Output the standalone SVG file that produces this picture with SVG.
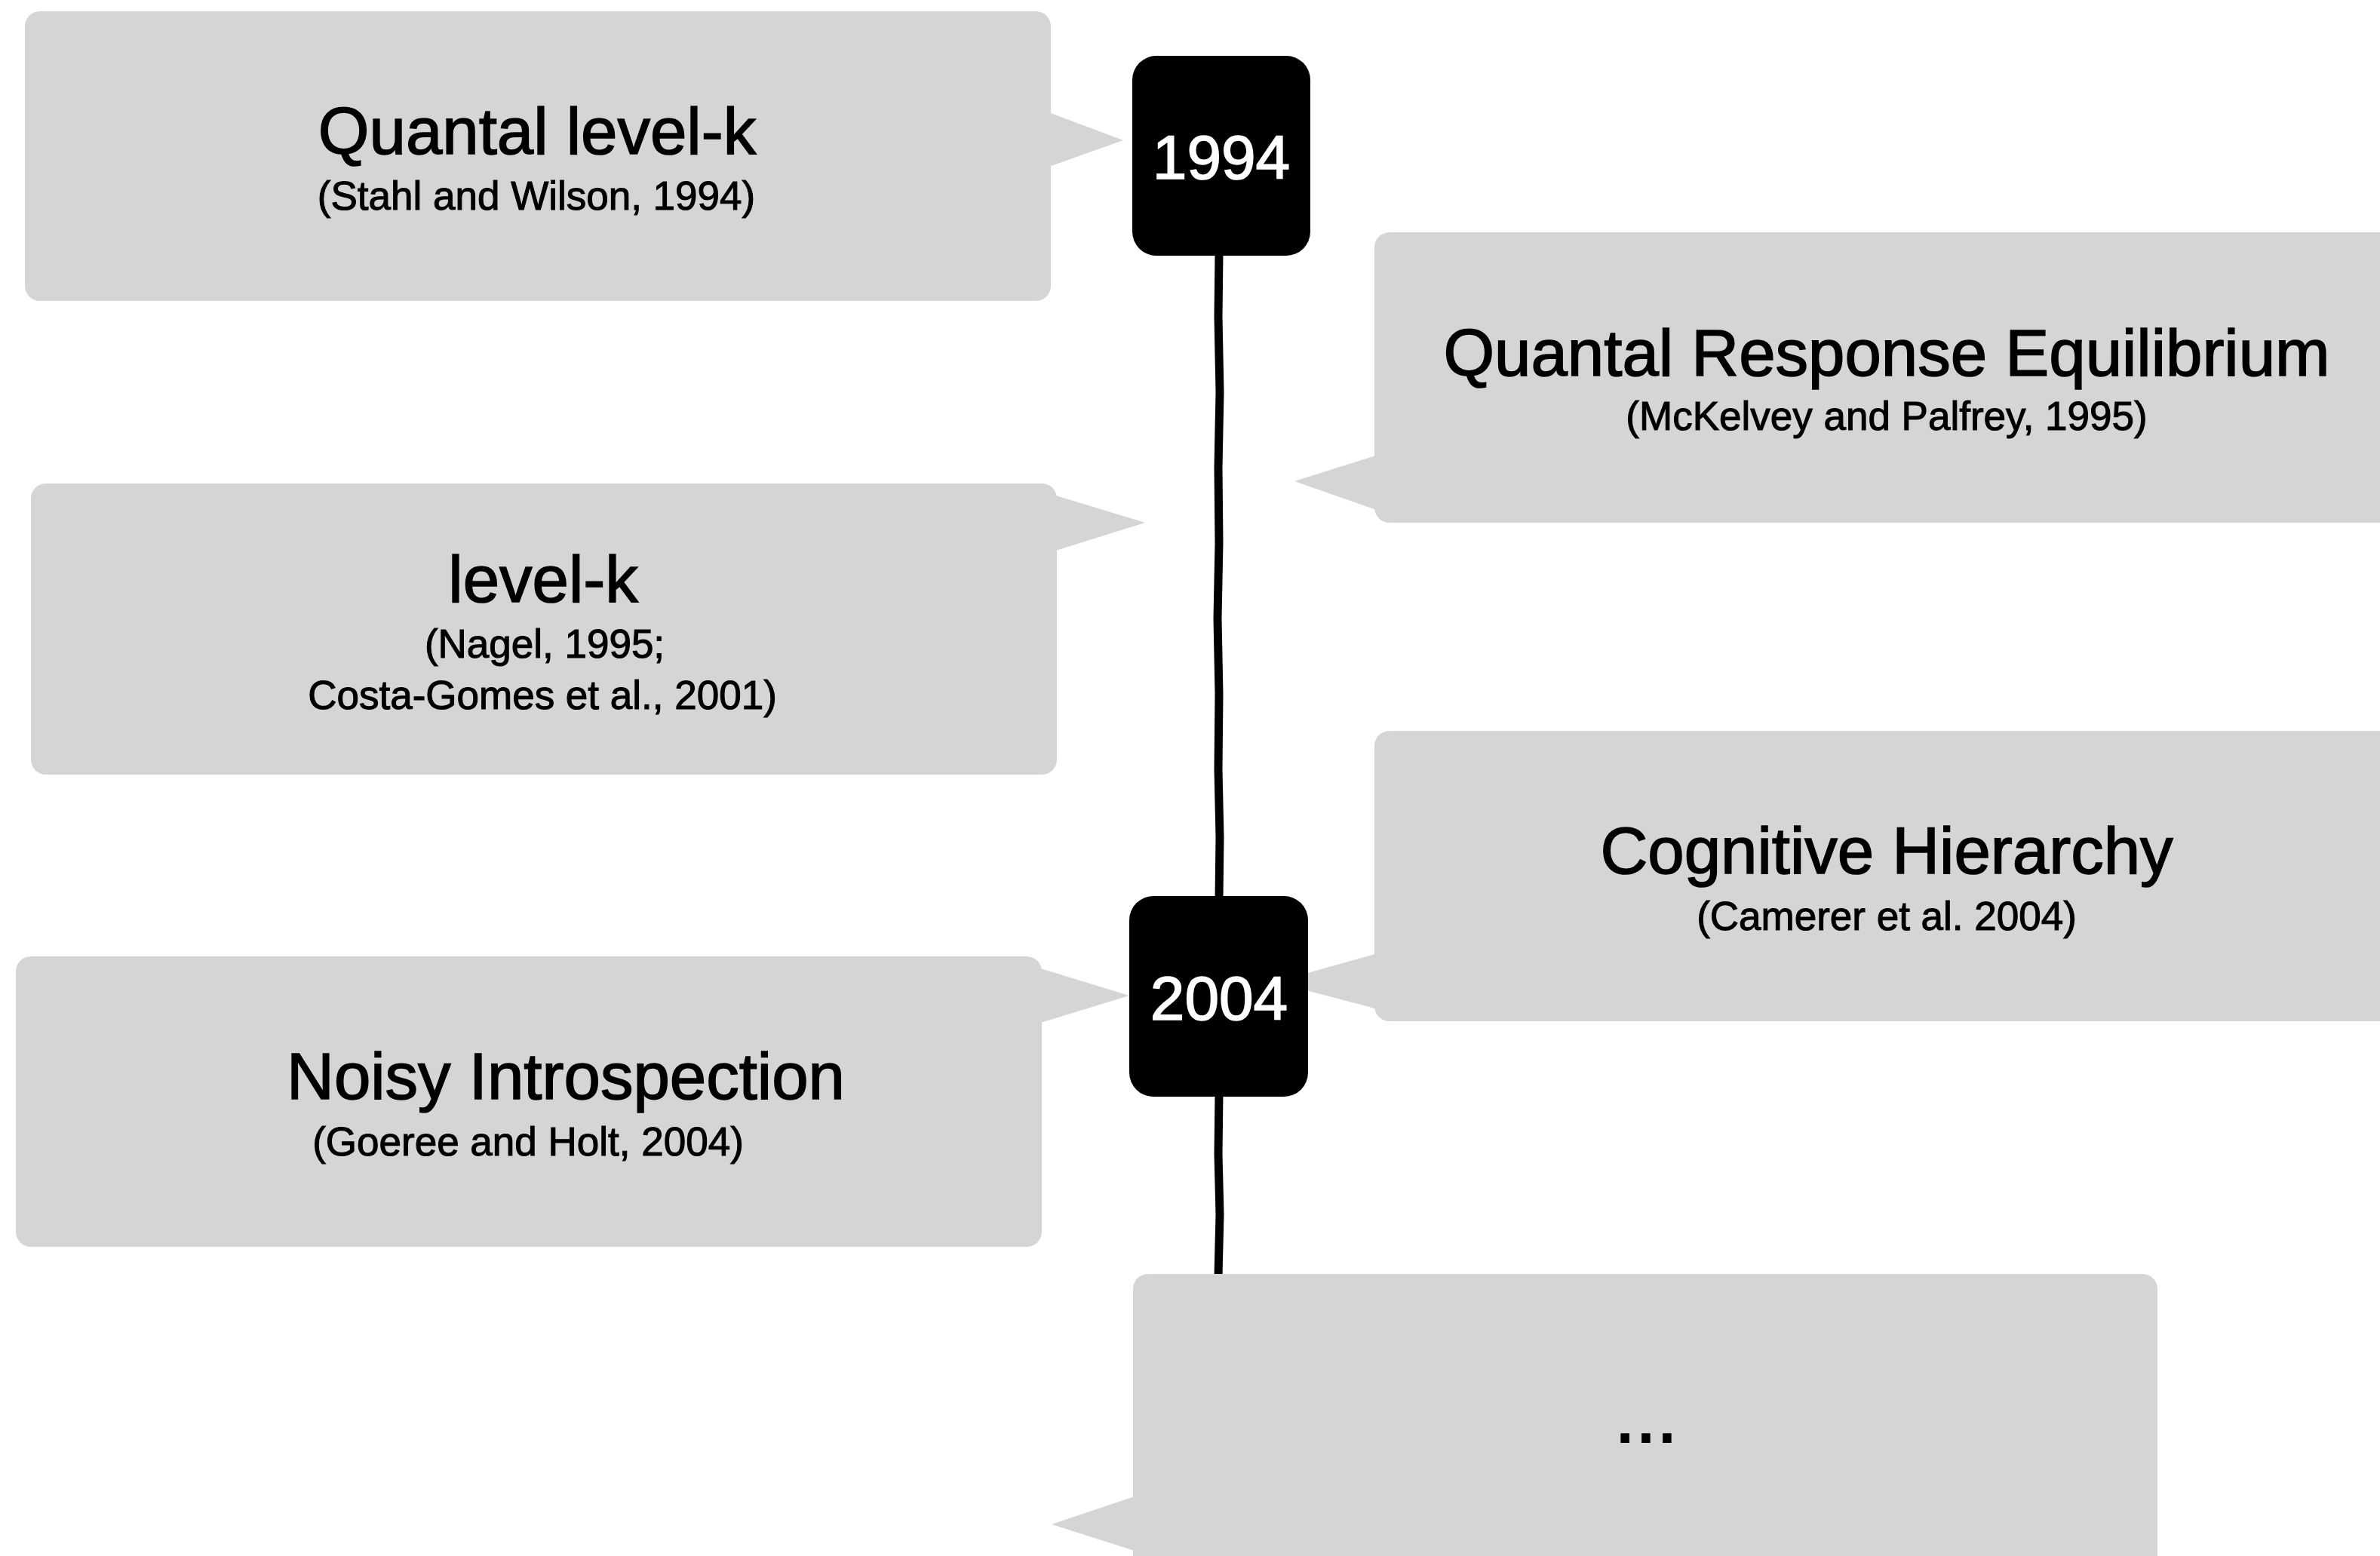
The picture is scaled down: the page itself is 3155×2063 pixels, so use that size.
<svg xmlns="http://www.w3.org/2000/svg" width="3155" height="2063" viewBox="0 0 3155 2063">
<style>
.box{fill:#d5d5d5}
.year{fill:#000}
.t{font-family:"Liberation Sans",Arial,Helvetica,sans-serif;text-anchor:middle;fill:#000;stroke:#000}
.title{font-size:87px;stroke-width:1.6}
.sub{font-size:53px;stroke-width:1.1}
.yt{font-family:"Liberation Sans",Arial,Helvetica,sans-serif;text-anchor:middle;fill:#fff;stroke:#fff;stroke-width:1.6;font-size:82px}
.line{fill:none;stroke:#000;stroke-width:11;stroke-linecap:butt}
</style>
<rect width="3155" height="2063" fill="#fff"/>
<g id="connectors">
<path class="line" d="M1616 336 L1615 420 L1617 520 L1615 620 L1616 720 L1614 820 L1616 920 L1615 1020 L1617 1110 L1616 1192"/>
<path class="line" d="M1616 1450 L1615 1530 L1617 1610 L1615 1692"/>
</g>
<g id="node-quantal-level-k">
<rect class="box" x="33" y="15" width="1360" height="384" rx="20"/>
<polygon class="box" points="1385,147 1489,186 1385,223"/>
<text class="t title" x="712" y="204">Quantal level-k</text>
<text class="t sub" x="711" y="278">(Stahl and Wilson, 1994)</text>
</g>
<g id="node-qre">
<rect class="box" x="1822" y="308" width="1400" height="385" rx="20"/>
<polygon class="box" points="1830,602 1716,638 1830,678"/>
<text class="t title" x="2501" y="498">Quantal Response Equilibrium</text>
<text class="t sub" x="2501" y="570">(McKelvey and Palfrey, 1995)</text>
</g>
<g id="node-level-k">
<rect class="box" x="41" y="641" width="1360" height="386" rx="20"/>
<polygon class="box" points="1393,655 1518,693 1393,732"/>
<text class="t title" x="720" y="798">level-k</text>
<text class="t sub" x="722" y="872">(Nagel, 1995;</text>
<text class="t sub" x="719" y="940">Costa-Gomes et al., 2001)</text>
</g>
<g id="node-cognitive-hierarchy">
<rect class="box" x="1822" y="969" width="1400" height="385" rx="20"/>
<polygon class="box" points="1830,1263 1690,1302 1830,1339"/>
<text class="t title" x="2501" y="1158">Cognitive Hierarchy</text>
<text class="t sub" x="2501" y="1233">(Camerer et al. 2004)</text>
</g>
<g id="node-noisy-introspection">
<rect class="box" x="21" y="1268" width="1360" height="385" rx="20"/>
<polygon class="box" points="1373,1282 1497,1320 1373,1358"/>
<text class="t title" x="750" y="1457">Noisy Introspection</text>
<text class="t sub" x="700" y="1532">(Goeree and Holt, 2004)</text>
</g>
<g id="node-more">
<rect class="box" x="1502" y="1689" width="1358" height="450" rx="20"/>
<polygon class="box" points="1510,1982 1394,2021 1510,2058"/>
<text class="t" x="2182" y="1912" style="font-size:100px;stroke-width:2">...</text>
</g>
<g id="node-1994">
<rect class="year" x="1501" y="74" width="236" height="265" rx="32"/>
<text class="yt" x="1619" y="237">1994</text>
</g>
<g id="node-2004">
<rect class="year" x="1497" y="1188" width="237" height="266" rx="32"/>
<text class="yt" x="1616" y="1352">2004</text>
</g>
</svg>
